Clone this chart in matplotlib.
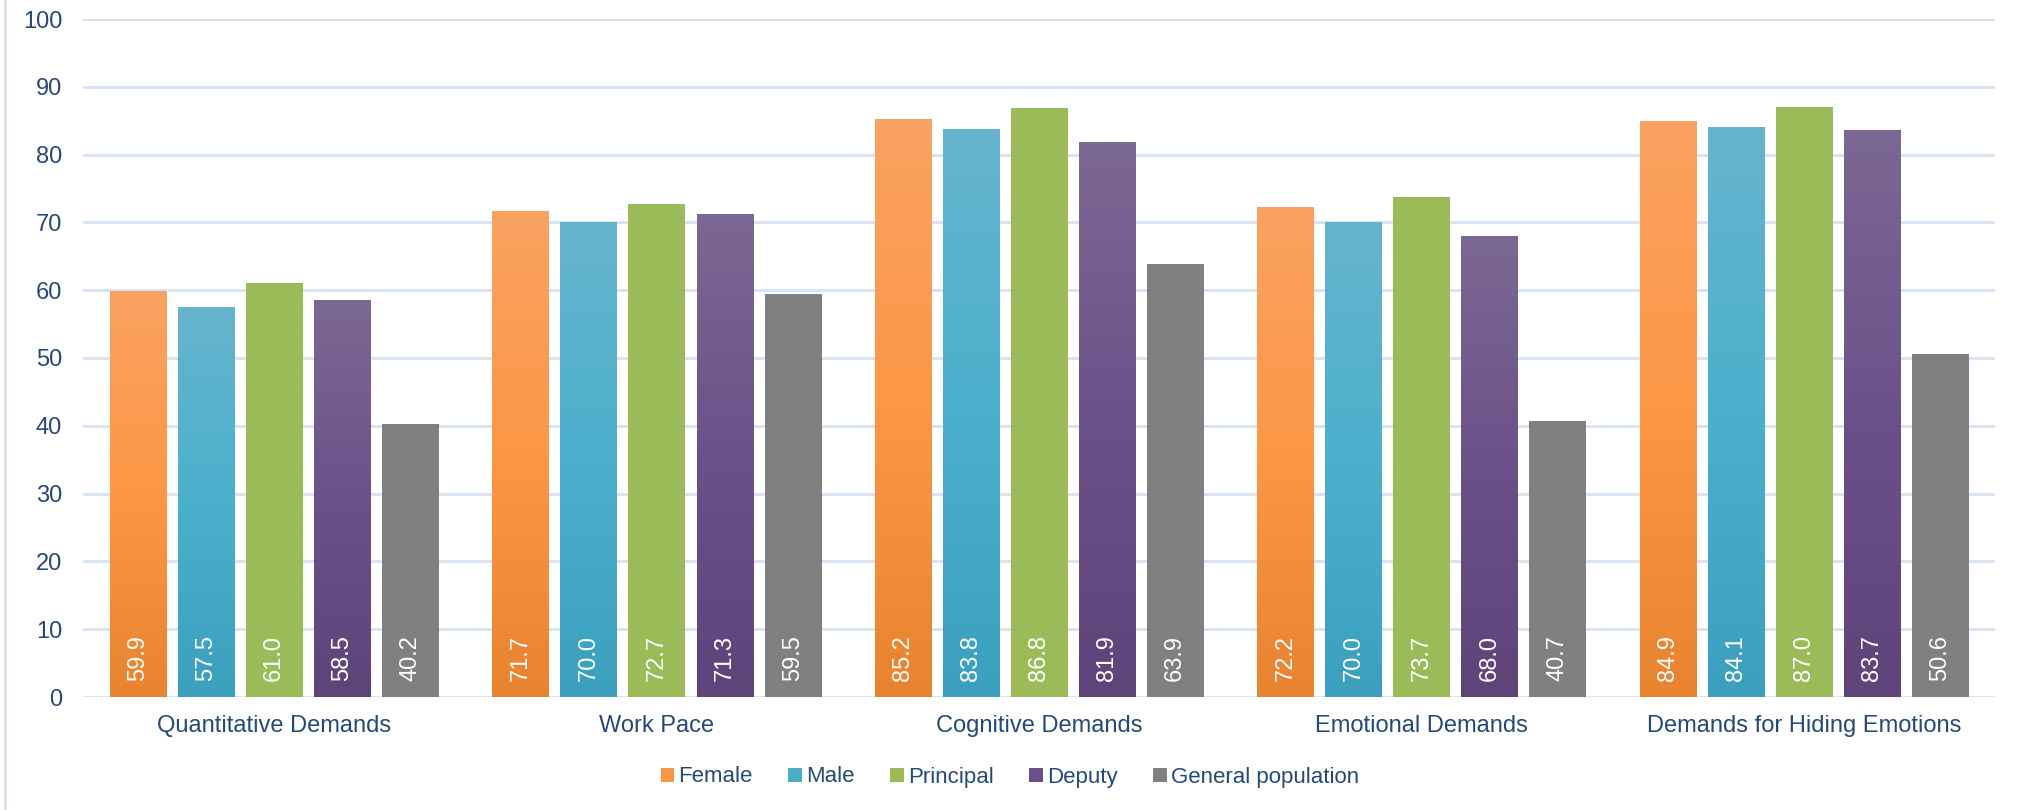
import numpy as np
import matplotlib.pyplot as plt
from matplotlib.colors import LinearSegmentedColormap
from matplotlib.patches import Patch
from matplotlib.lines import Line2D

plt.rcParams['font.family'] = ['Liberation Sans', 'DejaVu Sans']

categories = ["Quantitative Demands", "Work Pace", "Cognitive Demands",
              "Emotional Demands", "Demands for Hiding Emotions"]
series = ["Female", "Male", "Principal", "Deputy", "General population"]

female = [59.9, 71.7, 85.2, 72.2, 84.9]
male = [57.5, 70.0, 83.8, 70.0, 84.1]
principal = [61.0, 72.7, 86.8, 73.7, 87.0]
deputy = [58.5, 71.3, 81.9, 68.0, 83.7]
general = [40.2, 59.5, 63.9, 40.7, 50.6]
values = [female, male, principal, deputy, general]

# bottom -> middle -> top shading for each series
shades = [
    ["#E8832F", "#FD9746", "#F9A262"],
    ["#3AA0BE", "#4BB0CC", "#67B4CE"],
    ["#9BBB59", "#9BBB59", "#9BBB59"],
    ["#5E4479", "#6B5189", "#7C6894"],
    ["#808080", "#808080", "#808080"],
]
legend_colors = ["#F79646", "#4BACC6", "#9BBB59", "#6A4F88", "#808080"]

text_color = "#24497A"
grid_color = "#D6E2F2"

fig = plt.figure(figsize=(20.2, 8.1), dpi=100)
ax = fig.add_axes([83 / 2020, 1 - 697 / 810, (1995 - 83) / 2020, (697 - 19) / 810])

x = np.arange(len(categories))
pitch = 0.178
width = 0.147
grad = np.linspace(0, 1, 256).reshape(-1, 1)

for i, (vals, cols) in enumerate(zip(values, shades)):
    pos = x + (i - 2) * pitch
    cmap = LinearSegmentedColormap.from_list(series[i], cols)
    bars = ax.bar(pos, vals, width, color=cols[1], linewidth=0, zorder=2)
    for bar, v in zip(bars, vals):
        x0 = bar.get_x()
        im = ax.imshow(grad, cmap=cmap, origin='lower', aspect='auto',
                       extent=(x0, x0 + width, 0, v), zorder=3)
        im.set_clip_path(bar)
        ax.text(bar.get_x() + width / 2, 2.3, f"{v:.1f}", rotation=90,
                ha='center', va='bottom', color='white', fontsize=17, zorder=4)

ax.set_xlim(-0.5, len(categories) - 0.5)
ax.set_ylim(0, 100)
ax.set_yticks(range(0, 101, 10))
ax.set_xticks(x)
ax.set_xticklabels(categories)
ax.tick_params(axis='both', length=0, labelsize=17, labelcolor=text_color)
ax.tick_params(axis='x', pad=13)
ax.tick_params(axis='y', pad=15)
ax.yaxis.grid(True, color=grid_color, linewidth=2)
ax.set_axisbelow(True)
for s in ax.spines.values():
    s.set_visible(False)

# thin frame line down the left edge of the chart area
fig.add_artist(Line2D([5 / 2020, 5 / 2020], [0, 1], color=grid_color, linewidth=2))

handles = [Patch(facecolor=c, edgecolor='none') for c in legend_colors]
fig.legend(handles, series, loc='center', bbox_to_anchor=(0.5, 1 - 777 / 810),
           ncol=5, frameon=False, fontsize=16, handlelength=0.6, handleheight=0.6,
           handletextpad=0.2, columnspacing=1.6, labelcolor=text_color)

fig.savefig("out.png", dpi=100)
